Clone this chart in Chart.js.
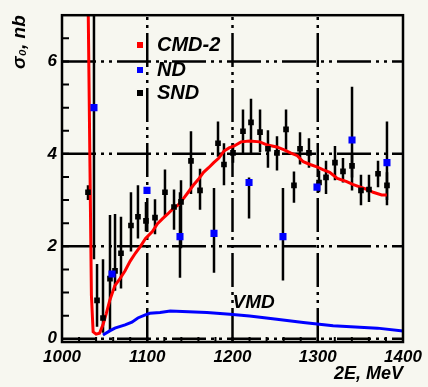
<!DOCTYPE html>
<html><head><meta charset="utf-8">
<script src="https://cdn.jsdelivr.net/npm/chart.js@4.4.1/dist/chart.umd.min.js"></script>
<style>html,body{margin:0;padding:0;background:#f7f7f0;}canvas{display:block;}</style>
</head><body>
<canvas id="c" width="428" height="387"></canvas>
<script>
// ---------- data ----------
const xTickLabels = [1000, 1100, 1200, 1300, 1400];
const yTickLabels = [0, 2, 4, 6];
const xGridValues = [1100, 1200, 1300];
const yGridValues = [0, 2, 4, 6];

// CMD-2 fit (red)
const cmdX = [1030.2,1034.5,1036.5,1040,1044,1048,1052,1056,1062,1068,1074,1080,1086,1092,1098,1106,1112,1118,1124,1130,1136,1142,1148,1154,1160,1166,1172,1178,1184,1190,1196,1202,1210,1220,1232,1241,1252,1260,1268,1276,1283,1291,1299,1306,1314,1323,1334,1341,1350,1358,1365,1375,1381];
const cmdY = [8.0,0.94,0.15,0.1,0.12,0.3,0.55,0.83,1.15,1.3,1.47,1.68,1.85,2.0,2.17,2.32,2.49,2.6,2.7,2.81,2.89,3.02,3.17,3.32,3.45,3.6,3.7,3.81,3.91,4.06,4.13,4.17,4.26,4.28,4.26,4.19,4.15,4.09,4.02,3.96,3.83,3.77,3.72,3.66,3.6,3.47,3.4,3.34,3.28,3.23,3.17,3.11,3.11];

// VMD curve (blue)
const vmdX = [1048,1056,1062,1074,1082,1089,1097,1103,1115,1127,1170,1197,1220,1252,1283,1318,1370,1400];
const vmdY = [0.08,0.17,0.23,0.3,0.36,0.45,0.51,0.55,0.57,0.6,0.57,0.53,0.49,0.42,0.35,0.28,0.23,0.17];

// ND points (blue)
const ndX  = [1037.5,1058.7,1099.7,1138.4,1178.3,1219.4,1259.2,1299.1,1340.2,1381.2];
const ndY  = [5.0,1.40,3.21,2.21,2.28,3.38,2.21,3.28,4.30,3.81];
const ndLo = [1.72,1.40,3.21,1.32,1.43,2.60,1.26,3.28,3.21,2.89];
const ndHi = [8.3,1.40,3.21,3.17,3.26,3.49,3.26,3.28,5.45,4.70];

// SND points (black)
const sndX  = [1030.5,1041.1,1048.1,1056.3,1062.2,1069.2,1080.9,1089.1,1098.5,1109.1,1120.8,1131.4,1139.6,1151.3,1161.9,1183,1190,1200.6,1212.3,1221.7,1232.3,1241.6,1252.2,1262.8,1272.1,1279.2,1289.7,1301.5,1309.7,1320.2,1329.6,1340.2,1350.7,1360.1,1370.7,1381.2];
const sndY  = [3.17,0.83,0.45,1.30,1.47,1.85,2.45,2.64,2.55,2.62,3.17,2.85,2.96,3.85,3.21,4.23,3.77,4.02,4.49,4.68,4.47,4.11,4.02,4.53,3.32,4.11,4.02,3.38,3.49,3.81,3.62,3.74,3.21,3.23,3.57,3.32];
const sndLo = [3.0,0.26,0.13,0.19,1.04,1.09,1.89,2.17,2.32,2.26,2.64,2.36,1.96,3.13,2.79,3.94,3.32,3.81,4.02,3.98,4.04,3.70,3.64,4.09,2.94,3.77,3.70,3.17,3.13,3.43,3.38,3.49,2.89,2.96,3.28,3.0];
const sndHi = [3.32,1.62,1.72,2.68,2.70,2.64,3.17,3.32,2.96,3.02,3.66,3.23,3.43,4.49,3.68,4.70,4.23,4.23,4.96,5.19,4.96,4.51,4.38,4.96,3.62,4.47,4.34,3.64,3.85,4.17,3.91,4.02,3.55,3.55,3.85,3.60];

// ---------- styling ----------
const BG = '#f7f7f0';
const FONT = "'Liberation Sans', Arial, sans-serif";
const pts = (xs, ys) => xs.map((x, i) => ({x, y: ys[i]}));

const bgPlugin = {
  id: 'bg',
  beforeDraw(chart) {
    const c = chart.ctx; c.save(); c.fillStyle = BG; c.fillRect(0, 0, chart.width, chart.height); c.restore();
  }
};

const gridPlugin = {
  id: 'gridAndBars',
  beforeDatasetsDraw(chart) {
    const {ctx, chartArea: a, scales: {x, y}} = chart;
    ctx.save();
    ctx.beginPath(); ctx.rect(a.left, a.top, a.right - a.left, a.bottom - a.top); ctx.clip();
    ctx.strokeStyle = '#000';
    ctx.lineWidth = 2.5;
    ctx.setLineDash([34, 5, 3, 5, 3, 5]);
    for (const v of xGridValues) {
      const px = x.getPixelForValue(v);
      ctx.beginPath(); ctx.moveTo(px, a.bottom); ctx.lineTo(px, a.top); ctx.stroke();
    }
    for (const v of yGridValues) {
      const py = y.getPixelForValue(v);
      ctx.beginPath(); ctx.moveTo(a.left, py); ctx.lineTo(a.right, py); ctx.stroke();
    }
    ctx.setLineDash([]);
    // minor ticks
    ctx.lineWidth = 2;
    for (let v = 0.5; v < 7; v += 0.5) {
      const py = y.getPixelForValue(v);
      ctx.beginPath(); ctx.moveTo(a.left, py); ctx.lineTo(a.left + 7, py); ctx.stroke();
    }
    for (let v = 1020; v < 1400; v += 20) {
      const px = x.getPixelForValue(v);
      ctx.beginPath(); ctx.moveTo(px, a.bottom); ctx.lineTo(px, a.bottom - 5); ctx.stroke();
    }
    // error bars
    ctx.lineWidth = 2.5;
    const bars = (xs, lo, hi) => {
      for (let i = 0; i < xs.length; i++) {
        if (lo[i] === hi[i]) continue;
        const px = x.getPixelForValue(xs[i]);
        ctx.beginPath(); ctx.moveTo(px, y.getPixelForValue(hi[i])); ctx.lineTo(px, y.getPixelForValue(lo[i])); ctx.stroke();
      }
    };
    bars(sndX, sndLo, sndHi);
    bars(ndX, ndLo, ndHi);
    ctx.restore();
  },
  afterDatasetsDraw(chart) {
    const {ctx, chartArea: a, scales: {x, y}} = chart;
    ctx.save();
    ctx.strokeStyle = '#000';
    ctx.lineWidth = 2.5;
    ctx.strokeRect(a.left, a.top, a.right - a.left, a.bottom - a.top);
    // VMD label
    ctx.fillStyle = '#000';
    ctx.font = `italic bold 19px ${FONT}`;
    ctx.textBaseline = 'middle';
    ctx.textAlign = 'left';
    ctx.fillText('VMD', x.getPixelForValue(1200), y.getPixelForValue(0.78));
    // legend
    const items = [
      {label: 'CMD-2', color: '#ff0000', ty: 45},
      {label: 'ND', color: '#0000ff', ty: 70},
      {label: 'SND', color: '#000000', ty: 93}
    ];
    ctx.font = `italic bold 20px ${FONT}`;
    for (const it of items) {
      ctx.fillStyle = it.color;
      ctx.fillRect(a.left + 75, it.ty - 3, 6, 6);
      ctx.fillStyle = '#000';
      ctx.fillText(it.label, a.left + 95, it.ty);
    }
    ctx.restore();
  }
};

new Chart(document.getElementById('c'), {
  type: 'scatter',
  data: {
    datasets: [
      {label: 'ND', data: pts(ndX, ndY), pointStyle: 'rect', pointRadius: 5, backgroundColor: '#0000ff', borderColor: '#0000ff', borderWidth: 0, showLine: false},
      {label: 'SND', data: pts(sndX, sndY), pointStyle: 'rect', pointRadius: 4, backgroundColor: '#000', borderColor: '#000', borderWidth: 0, showLine: false},
      {label: 'VMD', data: pts(vmdX, vmdY), showLine: true, borderColor: '#0000ff', borderWidth: 3, pointRadius: 0, fill: false},
      {label: 'CMD-2', data: pts(cmdX, cmdY), showLine: true, borderColor: '#ff0000', borderWidth: 3, pointRadius: 0, fill: false}
    ]
  },
  options: {
    responsive: false,
    animation: false,
    devicePixelRatio: 1,
    layout: {padding: {left: 8, top: 10, right: 25, bottom: 2}},
    plugins: {legend: {display: false}, tooltip: {enabled: false}},
    scales: {
      x: {
        type: 'linear', min: 1000, max: 1400,
        afterBuildTicks: s => { s.ticks = xTickLabels.map(v => ({value: v})); },
        afterFit: s => { s.height = 43; },
        grid: {display: false, drawTicks: false}, border: {display: false},
        ticks: {color: '#000', padding: 5, maxRotation: 0, autoSkip: false,
          callback: v => String(v),
          font: {family: FONT, size: 17, weight: 'bold', style: 'italic'}},
        title: {display: true, text: '2E, MeV', align: 'end', color: '#000', padding: 0,
          font: {family: FONT, size: 18, weight: 'bold', style: 'italic'}}
      },
      y: {
        type: 'linear', min: -0.07, max: 7,
        afterBuildTicks: s => { s.ticks = yTickLabels.map(v => ({value: v})); },
        afterFit: s => { s.width = 54; },
        grid: {display: false, drawTicks: false}, border: {display: false},
        ticks: {color: '#000', padding: 5, callback: v => String(v),
          font: {family: FONT, size: 17, weight: 'bold', style: 'italic'}},
        title: {display: true, text: 'σ₀, nb', align: 'end', color: '#000', padding: 0,
          font: {family: FONT, size: 19, weight: 'bold', style: 'italic'}}
      }
    }
  },
  plugins: [bgPlugin, gridPlugin]
});
</script>
</body></html>
